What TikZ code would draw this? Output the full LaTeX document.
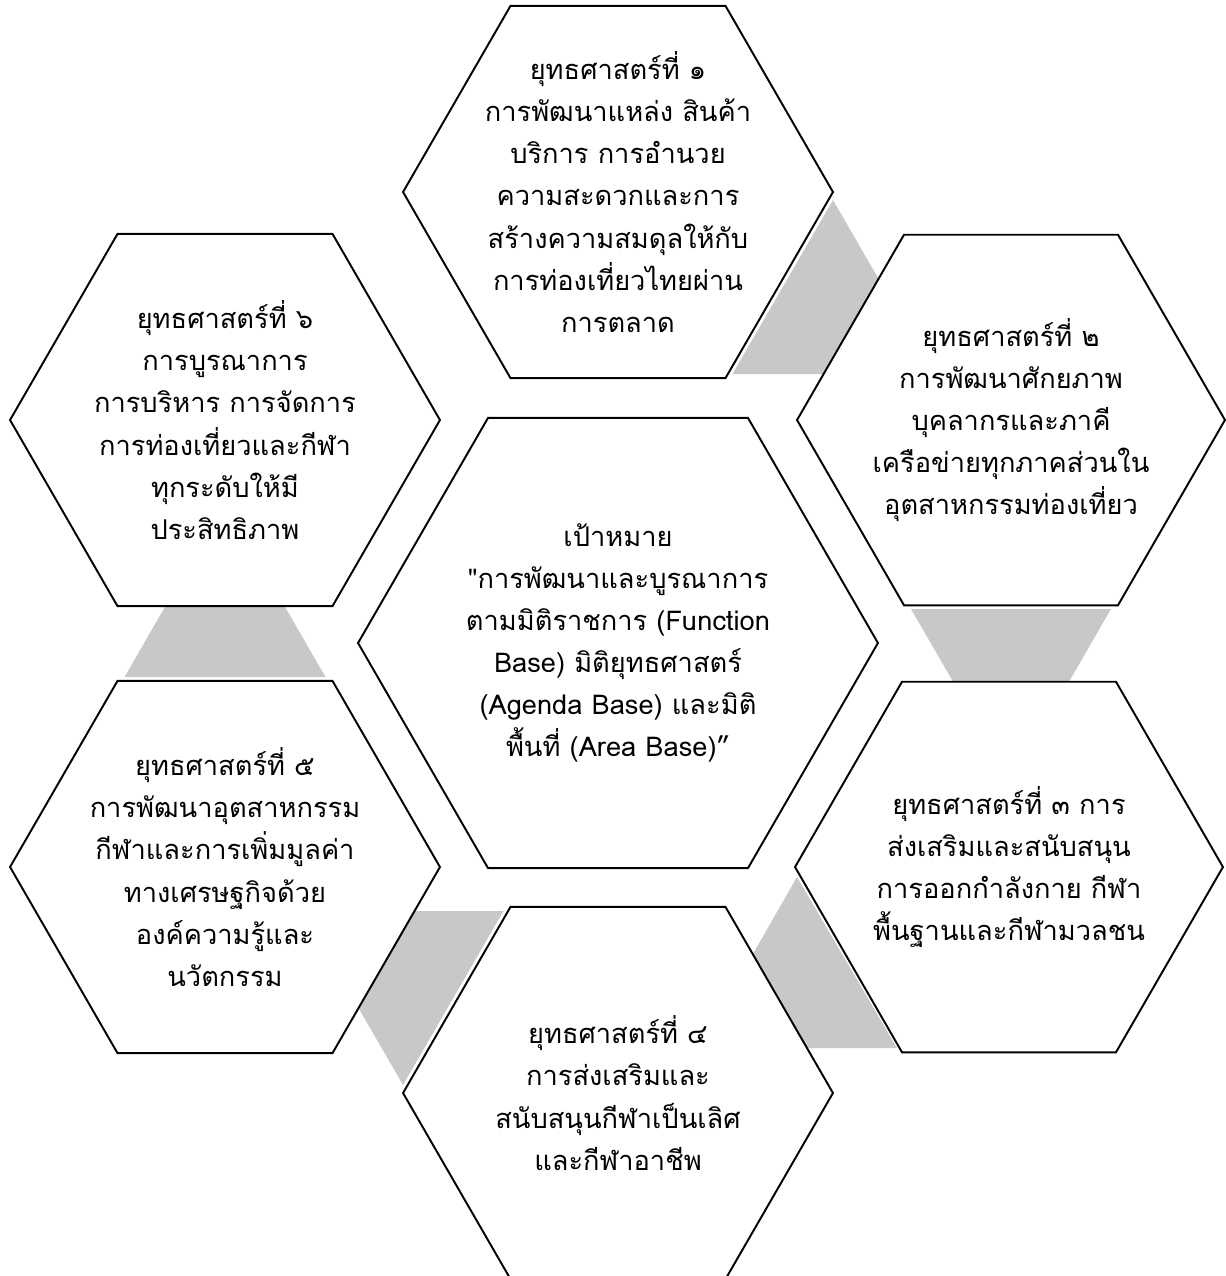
\documentclass[tikz,border=0pt]{standalone}
\usepackage{fontspec}
\usepackage{tikz}
\usetikzlibrary{shapes.geometric}
\newfontfamily\thaifont[Script=Thai]{Loma}
\definecolor{gapgray}{RGB}{200,200,200}
\definecolor{edge}{RGB}{0,0,0}

\begin{document}
\begin{tikzpicture}[x=0.02cm,y=-0.02cm,
    hexcell/.style={regular polygon,regular polygon sides=6,draw=edge,fill=white,
      line width=1.1pt,inner sep=0pt,outer sep=0pt},
    hexnote/.style={align=center,inner sep=0pt,
      font=\thaifont\fontsize{15.5pt}{24pt}\selectfont}]

    \useasboundingbox (0,0) rectangle (1226,1276);

    % Gray triangles between neighbouring cells
    \fill[gapgray] (833,200) -- (732.5,374) -- (933.5,374) -- cycle;
    \fill[gapgray] (911,609) -- (1111,609) -- (1011,782) -- cycle;
    \fill[gapgray] (797,877) -- (897,1048) -- (699,1048) -- cycle;
    \fill[gapgray] (403,1085) -- (503.5,911) -- (302.5,911) -- cycle;
    \fill[gapgray] (124.5,677) -- (325.5,677) -- (225,503) -- cycle;

    % Cells
    \node[hexcell,minimum size=10.4cm] (goal) at (618,643) {};
    \node[hexcell,minimum size=8.6cm]  (s1) at (618,192) {};
    \node[hexcell,minimum size=8.56cm] (s2) at (1011,420) {};
    \node[hexcell,minimum size=8.56cm] (s3) at (1009,867) {};
    \node[hexcell,minimum size=8.6cm]  (s4) at (618,1093) {};
    \node[hexcell,minimum size=8.6cm]  (s5) at (225,867) {};
    \node[hexcell,minimum size=8.6cm]  (s6) at (225,420) {};

    % Texts
    \node[hexnote] (goaltext) at (goal) {เป้าหมาย\\"การพัฒนาและบูรณาการ\\ตามมิติราชการ (Function\\Base) มิติยุทธศาสตร์\\(Agenda Base) และมิติ\\พื้นที่ (Area Base)”};
    \node[hexnote] (s1text) at (s1) {ยุทธศาสตร์ที่ ๑\\การพัฒนาแหล่ง สินค้า\\บริการ การอำนวย\\ความสะดวกและการ\\สร้างความสมดุลให้กับ\\การท่องเที่ยวไทยผ่าน\\การตลาด};
    \node[hexnote] (s2text) at (s2) {ยุทธศาสตร์ที่ ๒\\การพัฒนาศักยภาพ\\บุคลากรและภาคี\\เครือข่ายทุกภาคส่วนใน\\อุตสาหกรรมท่องเที่ยว};
    \node[hexnote] (s3text) at (s3) {ยุทธศาสตร์ที่ ๓ การ\\ส่งเสริมและสนับสนุน\\การออกกำลังกาย กีฬา\\พื้นฐานและกีฬามวลชน};
    \node[hexnote] (s4text) at (s4) {ยุทธศาสตร์ที่ ๔\\การส่งเสริมและ\\สนับสนุนกีฬาเป็นเลิศ\\และกีฬาอาชีพ};
    \node[hexnote] (s5text) at (s5) {ยุทธศาสตร์ที่ ๕\\การพัฒนาอุตสาหกรรม\\กีฬาและการเพิ่มมูลค่า\\ทางเศรษฐกิจด้วย\\องค์ความรู้และ\\นวัตกรรม};
    \node[hexnote] (s6text) at (s6) {ยุทธศาสตร์ที่ ๖\\การบูรณาการ\\การบริหาร การจัดการ\\การท่องเที่ยวและกีฬา\\ทุกระดับให้มี\\ประสิทธิภาพ};

\end{tikzpicture}
\end{document}
